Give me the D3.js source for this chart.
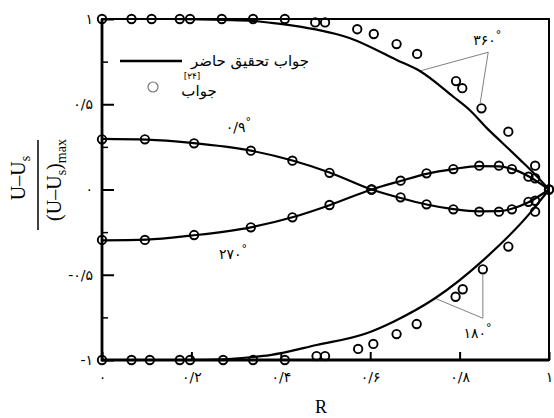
<!DOCTYPE html>
<html>
<head>
<meta charset="utf-8">
<script src="https://cdn.jsdelivr.net/npm/d3@7"></script>
<style>
  html, body { margin: 0; padding: 0; background: #fff; }
  svg { display: block; }
  .fa { font-family: "DejaVu Sans", "Noto Sans", sans-serif; }
  .lat { font-family: "Liberation Serif", "DejaVu Serif", serif; }
</style>
</head>
<body>
<svg id="chart" width="554" height="418"></svg>
<script>
// Normalised velocity profiles across the radius for four angular positions.
// Solid lines: present study; circles: reference [24].

// Present study (solid curves)
const R_LINE_360 = [0, 0.15, 0.25, 0.331, 0.376, 0.443, 0.555, 0.659, 0.711, 0.786, 0.823, 0.861, 0.897, 0.935, 0.97, 1];
const LINE_360   = [1, 1, 0.996, 0.99, 0.978, 0.955, 0.887, 0.76, 0.695, 0.544, 0.465, 0.36, 0.27, 0.175, 0.085, 0];

const R_LINE_180 = [0, 0.2, 0.27, 0.331, 0.376, 0.48, 0.592, 0.652, 0.745, 0.853, 0.957, 1];
const LINE_180   = [-1, -1, -0.996, -0.984, -0.971, -0.912, -0.843, -0.775, -0.638, -0.414, -0.14, 0];

const R_LINE_MID = [0, 0.1, 0.2, 0.333, 0.426, 0.509, 0.603, 0.668, 0.726, 0.786, 0.844, 0.888, 0.917, 0.954, 1];
const LINE_09    = [0.297, 0.293, 0.274, 0.228, 0.17, 0.1, 0, -0.05, -0.088, -0.115, -0.128, -0.127, -0.113, -0.075, 0];
const LINE_270   = [-0.298, -0.294, -0.27, -0.222, -0.163, -0.092, 0, 0.05, 0.092, 0.12, 0.137, 0.136, 0.121, 0.078, 0];

// Reference [24] (circles)
const R_MARK_360 = [0, 0.066, 0.111, 0.174, 0.197, 0.268, 0.338, 0.409, 0.477, 0.499, 0.571, 0.608, 0.659, 0.705, 0.792, 0.806, 0.849, 0.909, 0.969];
const MARK_360   = [1, 1, 1, 1, 1, 1, 1, 1, 0.98, 0.98, 0.94, 0.912, 0.853, 0.795, 0.636, 0.594, 0.476, 0.339, 0.14];

const R_MARK_180 = [0, 0.066, 0.107, 0.174, 0.197, 0.271, 0.338, 0.409, 0.48, 0.499, 0.573, 0.607, 0.659, 0.704, 0.791, 0.807, 0.852, 0.909, 0.969];
const MARK_180   = [-1, -1, -1, -1, -1, -1, -1, -1, -0.977, -0.977, -0.935, -0.906, -0.848, -0.789, -0.629, -0.585, -0.468, -0.335, -0.13];

const R_MARK_MID = [0, 0.096, 0.206, 0.333, 0.426, 0.509, 0.603, 0.668, 0.726, 0.786, 0.844, 0.888, 0.917, 0.954, 0.969, 1];
const MARK_09    = [0.294, 0.294, 0.271, 0.228, 0.169, 0.098, 0, -0.046, -0.087, -0.116, -0.13, -0.13, -0.116, -0.072, -0.066, 0];
const MARK_270   = [-0.296, -0.296, -0.267, -0.222, -0.163, -0.091, 0, 0.052, 0.095, 0.12, 0.14, 0.14, 0.12, 0.075, 0.066, 0];

// Axis ticks
const X_TICKS = [0, 0.2, 0.4, 0.6, 0.8, 1];
const X_TICK_LABELS = ["۰", "۰/۲", "۰/۴", "۰/۶", "۰/۸", "۱"];
const Y_TICKS = [1, 0.5, 0, -0.5, -1];
const Y_TICK_LABELS = ["۱", "۰/۵", "۰", "-۰/۵", "-۱"];
const Y_MINOR = [0.75, 0.25, -0.25, -0.75];

// Curve labels (angle, anchor point in data units)
const CURVE_LABELS = [
  { text: "۳۶۰", r: 0.862, v: 0.845 },
  { text: "۱۸۰", r: 0.84, v: -0.87 },
  { text: "۲۷۰", r: 0.293, v: -0.405 },
  { text: "۰/۹", r: 0.305, v: 0.335 }
];
// Leader lines: apex and two targets (curve, circle) in data units
const LEADERS = [
  { apex: [0.864, 0.805], ends: [[0.711, 0.695], [0.846, 0.506]] },
  { apex: [0.852, -0.755], ends: [[0.745, -0.638], [0.852, -0.501]] }
];

const svg = d3.select("#chart");
const x = d3.scaleLinear().domain([0, 1]).range([102, 549]);
const y = d3.scaleLinear().domain([-1, 1]).range([360, 19]);

// Ticks (inward)
const gy = svg.append("g").attr("transform", `translate(${x(0)},0)`)
  .call(d3.axisLeft(y).tickValues(Y_TICKS).tickSize(-12).tickPadding(9)
    .tickFormat((d, i) => Y_TICK_LABELS[i]));
gy.select(".domain").remove();
gy.selectAll("line").attr("stroke", "#000").attr("stroke-width", 2);
gy.selectAll("text").attr("class", "fa").attr("font-size", 14).attr("fill", "#000")
  .attr("font-family", null);

const gym = svg.append("g").attr("transform", `translate(${x(0)},0)`)
  .call(d3.axisLeft(y).tickValues(Y_MINOR).tickSize(-6).tickFormat(""));
gym.select(".domain").remove();
gym.selectAll("line").attr("stroke", "#000").attr("stroke-width", 1.5);

const gx = svg.append("g").attr("transform", `translate(0,${y(-1)})`)
  .call(d3.axisBottom(x).tickValues(X_TICKS).tickSize(-8).tickPadding(12)
    .tickFormat((d, i) => X_TICK_LABELS[i]));
gx.select(".domain").remove();
gx.selectAll("line").attr("stroke", "#000").attr("stroke-width", 2);
gx.selectAll("text").attr("class", "fa").attr("font-size", 14).attr("fill", "#000")
  .attr("font-family", null);

// Frame
svg.append("rect")
  .attr("x", x(0)).attr("y", y(1))
  .attr("width", x(1) - x(0)).attr("height", y(-1) - y(1))
  .attr("fill", "none").attr("stroke", "#000").attr("stroke-width", 2);
svg.append("path")
  .attr("d", `M${x(0)},${y(1)}V${y(-1)}H${x(1)}`)
  .attr("fill", "none").attr("stroke", "#000").attr("stroke-width", 2.8);

// Leader lines
const leaders = svg.append("g").attr("stroke", "#808080").attr("stroke-width", 1).attr("fill", "none");
LEADERS.forEach(L => {
  L.ends.forEach(e => {
    leaders.append("line")
      .attr("x1", x(L.apex[0])).attr("y1", y(L.apex[1]))
      .attr("x2", x(e[0])).attr("y2", y(e[1]));
  });
});

// Curves
const line = d3.line().x(d => x(d[0])).y(d => y(d[1])).curve(d3.curveMonotoneX);
const zip = (a, b) => a.map((v, i) => [v, b[i]]);
[
  zip(R_LINE_360, LINE_360),
  zip(R_LINE_180, LINE_180),
  zip(R_LINE_MID, LINE_09),
  zip(R_LINE_MID, LINE_270)
].forEach(pts => {
  svg.append("path").attr("d", line(pts))
    .attr("fill", "none").attr("stroke", "#000").attr("stroke-width", 2.2);
});

// Reference circles
const marks = svg.append("g").attr("fill", "none").attr("stroke", "#000").attr("stroke-width", 1.9);
[
  zip(R_MARK_360, MARK_360),
  zip(R_MARK_180, MARK_180),
  zip(R_MARK_MID, MARK_09),
  zip(R_MARK_MID, MARK_270)
].forEach(pts => {
  marks.selectAll(null).data(pts).enter().append("circle")
    .attr("cx", d => x(d[0])).attr("cy", d => y(d[1])).attr("r", 4.2);
});

// Curve labels with degree sign
CURVE_LABELS.forEach(c => {
  const t = svg.append("text").attr("class", "fa")
    .attr("x", x(c.r)).attr("y", y(c.v))
    .attr("text-anchor", "middle").attr("font-size", 14).attr("fill", "#000");
  t.append("tspan").text(c.text);
  t.append("tspan").attr("dy", -7).attr("font-size", 11).text("°");
});

// Legend
svg.append("line").attr("x1", 120).attr("x2", 182).attr("y1", 61).attr("y2", 61)
  .attr("stroke", "#000").attr("stroke-width", 2.4);
svg.append("text").attr("class", "fa").attr("x", 250).attr("y", 66)
  .attr("text-anchor", "middle").attr("font-size", 15).attr("fill", "#000")
  .text("جواب تحقیق حاضر");
svg.append("circle").attr("cx", 153).attr("cy", 87).attr("r", 5)
  .attr("fill", "none").attr("stroke", "#777").attr("stroke-width", 1.2);
svg.append("text").attr("class", "fa").attr("x", 199).attr("y", 96)
  .attr("text-anchor", "middle").attr("font-size", 15).attr("fill", "#000")
  .text("جواب");
svg.append("text").attr("class", "fa").attr("x", 192).attr("y", 79)
  .attr("text-anchor", "middle").attr("font-size", 9).attr("fill", "#000")
  .text("[۲۴]");

// Axis titles
svg.append("text").attr("class", "lat").attr("x", x(0.49)).attr("y", 413)
  .attr("text-anchor", "middle").attr("font-size", 18).attr("fill", "#000").text("R");

const yt = svg.append("g").attr("transform", "translate(0,184) rotate(-90)");
const num = yt.append("text").attr("class", "lat").attr("x", 6).attr("y", 25)
  .attr("text-anchor", "middle").attr("font-size", 20).attr("fill", "#000");
num.append("tspan").text("U–U");
num.append("tspan").attr("font-size", 14).attr("dy", 5).text("s");
yt.append("line").attr("x1", -46).attr("x2", 44).attr("y1", 38).attr("y2", 38)
  .attr("stroke", "#000").attr("stroke-width", 1.5);
const den = yt.append("text").attr("class", "lat").attr("x", 4).attr("y", 61)
  .attr("text-anchor", "middle").attr("font-size", 20).attr("fill", "#000");
den.append("tspan").text("(U–U");
den.append("tspan").attr("font-size", 14).attr("dy", 5).text("s");
den.append("tspan").attr("dy", -5).text(")");
den.append("tspan").attr("font-size", 14).attr("dy", 5).text("max");
</script>
</body>
</html>
